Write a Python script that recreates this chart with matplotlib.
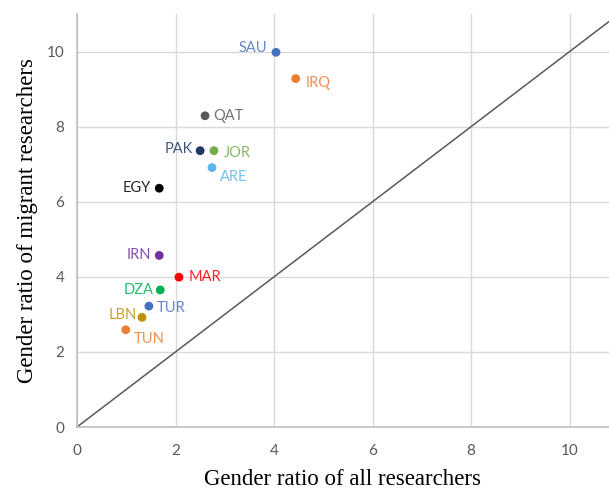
import matplotlib
matplotlib.use("Agg")
import matplotlib.pyplot as plt

countries = ["SAU", "IRQ", "QAT", "PAK", "JOR", "ARE", "EGY",
             "IRN", "MAR", "DZA", "TUR", "LBN", "TUN"]
ratio_all = [4.04, 4.44, 2.60, 2.50, 2.78, 2.74, 1.67,
             1.67, 2.07, 1.69, 1.46, 1.32, 0.99]
ratio_migrant = [9.98, 9.28, 8.29, 7.36, 7.36, 6.91, 6.36,
                 4.57, 3.99, 3.65, 3.22, 2.92, 2.59]
colors = ["#4472C4", "#ED7D31", "#595959", "#1F3864", "#70AD47", "#5BB4F0", "#000000",
          "#7030A0", "#FF0000", "#00B050", "#4472C4", "#BF9000", "#ED7D31"]
# label placement: (dx, dy) offset in points, ha
offsets = {
    "SAU": (-6, 3, "right"), "IRQ": (7, -3, "left"), "QAT": (6, 0, "left"),
    "PAK": (-5, 1, "right"), "JOR": (7, -2, "left"), "ARE": (6, -7, "left"),
    "EGY": (-6, 0, "right"), "IRN": (-6, 0, "right"), "MAR": (7, 0, "left"),
    "DZA": (-5, 0, "right"), "TUR": (6, -1, "left"), "LBN": (-4, 2, "right"),
    "TUN": (6, -7, "left"),
}

tick_font = "Lato"
fig = plt.figure(figsize=(6.09, 4.92), dpi=100)
ax = fig.add_axes([0.1264, 0.1321, 0.8736, 0.8394])
ax.set_xlim(0, 10.8)
ax.set_ylim(0, 11.0)
ax.grid(color="#d9d9d9", lw=1)
ax.set_axisbelow(True)
for s in ("top", "right"):
    ax.spines[s].set_visible(False)
for s in ("left", "bottom"):
    ax.spines[s].set_color("#bfbfbf")
    ax.spines[s].set_linewidth(1.2)
ax.tick_params(length=0, labelsize=11, labelcolor="#595959")
ax.tick_params(axis="x", pad=12)
ax.tick_params(axis="y", pad=9)
ax.set_xticks([0, 2, 4, 6, 8, 10])
ax.set_yticks([0, 2, 4, 6, 8, 10])
for lbl in ax.get_xticklabels() + ax.get_yticklabels():
    lbl.set_family(tick_font)

ax.plot([0, 11], [0, 11], color="#595959", lw=1.1, zorder=2)
ax.scatter(ratio_all, ratio_migrant, c=colors, s=40, zorder=3, lw=0)
for c, x, y, col in zip(countries, ratio_all, ratio_migrant, colors):
    dx, dy, ha = offsets[c]
    ax.annotate(c, (x, y), textcoords="offset points", xytext=(dx, dy),
                ha=ha, va="center", fontsize=10.5, color=col, family=tick_font,
                alpha=0.85)

ax.set_xlabel("Gender ratio of all researchers", family="Liberation Serif",
              fontsize=16.5, labelpad=8)
ax.set_ylabel("Gender ratio of migrant researchers", family="Liberation Serif",
              fontsize=16.5, labelpad=6)
fig.savefig("out.png", dpi=100)
